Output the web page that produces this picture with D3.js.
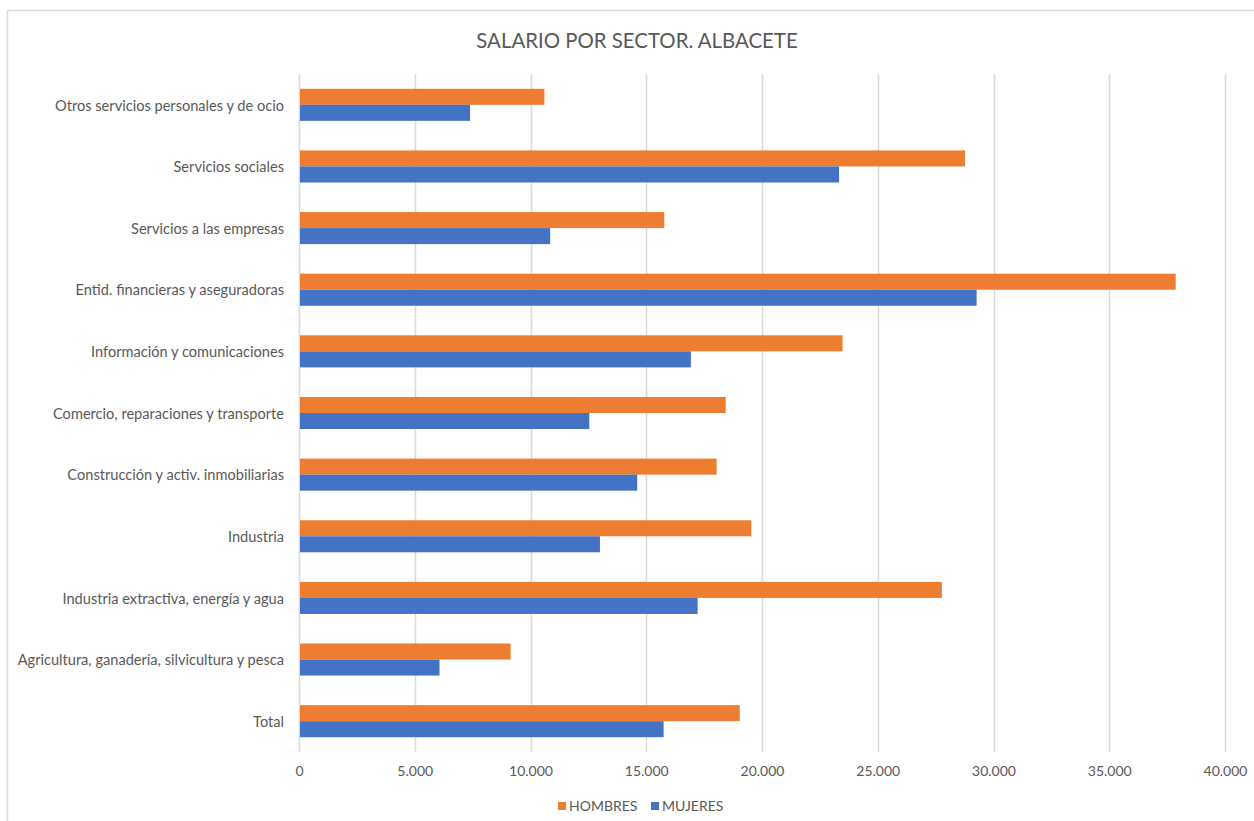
<!DOCTYPE html>
<html>
<head>
<meta charset="utf-8">
<script src="https://cdn.jsdelivr.net/npm/d3@7"></script>
<style>
  html, body { margin: 0; padding: 0; background: #fff; }
  svg { display: block; }
  text { font-family: Lato, "Open Sans", sans-serif; fill: #595959; }
</style>
</head>
<body>
<svg id="chart" width="1254" height="821"></svg>
<script>
// Sector categories, listed from the bottom of the chart upwards
const sectors = [
  "Total",
  "Agricultura, ganadería, silvicultura y pesca",
  "Industria extractiva, energía y agua",
  "Industria",
  "Construcción y activ. inmobiliarias",
  "Comercio, reparaciones y transporte",
  "Información y comunicaciones",
  "Entid. financieras y aseguradoras",
  "Servicios a las empresas",
  "Servicios sociales",
  "Otros servicios personales y de ocio"
];
const hombres = [19040, 9140, 27770, 19540, 18040, 18430, 23480, 37870, 15780, 28770, 10600];
const mujeres = [15750, 6070, 17220, 13000, 14610, 12540, 16930, 29270, 10850, 23330, 7390];
const seriesNames = ["HOMBRES", "MUJERES"];
const seriesColors = ["#ED7D31", "#4472C4"];
const xTicks = [0, 5000, 10000, 15000, 20000, 25000, 30000, 35000, 40000];
const title = "SALARIO POR SECTOR. ALBACETE";

const svg = d3.select("#chart");
const W = 1254, H = 821;
const plot = { left: 299, right: 1225, top: 74, bottom: 752 };

// Chart frame
svg.append("rect")
  .attr("x", 7.5).attr("y", 10.5)
  .attr("width", W + 20).attr("height", H + 20)
  .attr("fill", "#fff").attr("stroke", "#d9d9d9").attr("stroke-width", 1.5);

// Title
svg.append("text")
  .attr("x", 637).attr("y", 48)
  .attr("text-anchor", "middle")
  .style("font-size", "20.4px")
  .text(title);

const x = d3.scaleLinear().domain([0, 40000]).range([plot.left, plot.right]);
const y = d3.scaleBand()
  .domain(sectors.slice().reverse())
  .range([plot.top, plot.bottom])
  .paddingInner(0.48).paddingOuter(0.24);
const ySub = d3.scaleBand().domain(seriesNames).range([0, y.bandwidth()]);

// Vertical gridlines
svg.append("g")
  .selectAll("line")
  .data(xTicks)
  .join("line")
  .attr("x1", d => Math.round(x(d)) + 0.5).attr("x2", d => Math.round(x(d)) + 0.5)
  .attr("y1", plot.top).attr("y2", plot.bottom)
  .attr("stroke", "#d9d9d9").attr("stroke-width", 1.5);

// X axis tick labels
const fmt = d3.formatLocale({ decimal: ",", thousands: ".", grouping: [3], currency: ["", "€"] }).format(",.0f");
const xAxis = d3.axisBottom(x).tickValues(xTicks).tickFormat(fmt).tickSize(0).tickPadding(14);
const gx = svg.append("g").attr("transform", `translate(0,${plot.bottom})`).call(xAxis);
gx.select(".domain").remove();
gx.selectAll("text").style("font-size", "14px").attr("fill", "#595959").style("font-family", "Lato, 'Open Sans', sans-serif");

// Category labels
const yAxis = d3.axisLeft(y).tickSize(0).tickPadding(15);
const gy = svg.append("g").attr("transform", `translate(${plot.left},1)`).call(yAxis);
gy.select(".domain").remove();
gy.selectAll("text").style("font-size", "14.6px").attr("fill", "#595959").style("font-family", "Lato, 'Open Sans', sans-serif");

// Bars
const rows = sectors.map((s, i) => ({ sector: s, values: [hombres[i], mujeres[i]] }));
const groups = svg.append("g").selectAll("g")
  .data(rows)
  .join("g")
  .attr("transform", d => `translate(0,${y(d.sector)})`);
groups.selectAll("rect")
  .data(d => d.values.map((v, k) => ({ name: seriesNames[k], value: v, color: seriesColors[k] })))
  .join("rect")
  .attr("x", x(0) + 1)
  .attr("y", d => ySub(d.name))
  .attr("width", d => x(d.value) - x(0) - 1)
  .attr("height", ySub.bandwidth())
  .attr("fill", d => d.color);

// Legend
const legend = svg.append("g").attr("transform", "translate(558,806)");
const items = [{ name: seriesNames[0], color: seriesColors[0], dx: 0 }, { name: seriesNames[1], color: seriesColors[1], dx: 93 }];
const li = legend.selectAll("g").data(items).join("g").attr("transform", d => `translate(${d.dx},0)`);
li.append("rect").attr("x", 0).attr("y", -4).attr("width", 8).attr("height", 8).attr("fill", d => d.color);
li.append("text").attr("x", 11).attr("y", 0).attr("dy", "0.35em").style("font-size", "14px").text(d => d.name);
</script>
</body>
</html>
